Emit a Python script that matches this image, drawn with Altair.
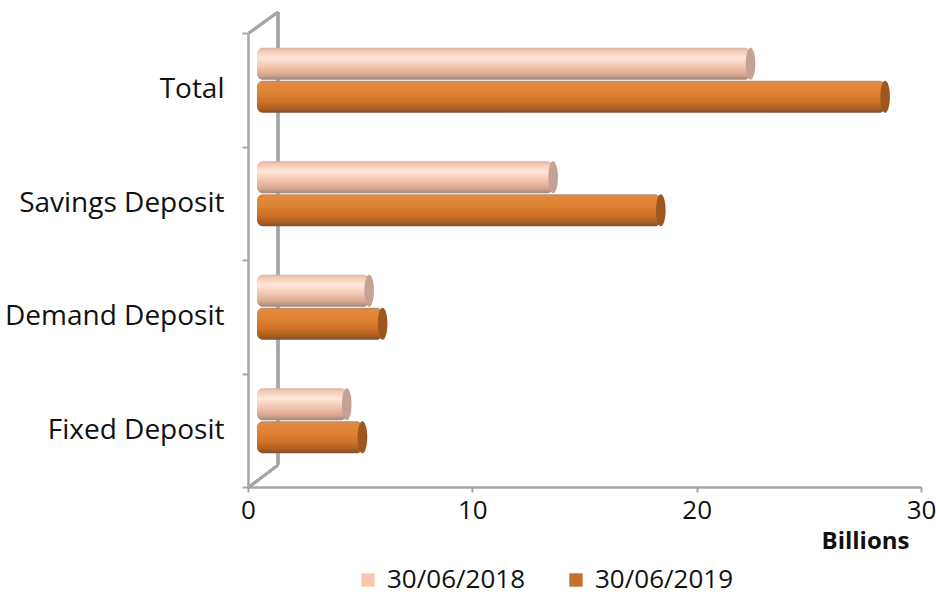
import altair as alt
import pandas as pd

categories = ["Total", "Savings Deposit", "Demand Deposit", "Fixed Deposit"]
series = ["30/06/2018", "30/06/2019"]
values_2018 = [22.0, 13.2, 5.0, 4.0]
values_2019 = [28.0, 18.0, 5.6, 4.7]
x_ticks = [0, 10, 20, 30]

rows = []
for c, a, b in zip(categories, values_2018, values_2019):
    rows.append({"category": c, "series": series[0], "value": a})
    rows.append({"category": c, "series": series[1], "value": b})
df = pd.DataFrame(rows)

FONT = "Open Sans"
GRAY = "#a6a6a6"
LIGHT = "#f8c8b2"
DARK = "#c3712f"

ellipse = "M0,-1 A0.3,1 0 1,1 0,1 A0.3,1 0 1,1 0,-1 Z"

x_enc = alt.X(
    "value:Q",
    scale=alt.Scale(domain=[0, 30], nice=False, zero=True),
    axis=alt.Axis(
        values=x_ticks, title="Billions", grid=False, labelFlush=False,
        domainColor=GRAY, domainWidth=2.5, tickColor=GRAY, tickWidth=2, tickSize=5,
        labelFont=FONT, labelFontSize=26, labelColor="#111111", labelPadding=5,
        titleFont=FONT, titleFontSize=24, titleFontWeight="bold", titleColor="#111111",
        titleX=617, titleY=54, titleAlign="center", titleBaseline="middle",
    ),
)
y_enc = alt.Y(
    "category:N",
    sort=categories,
    scale=alt.Scale(paddingInner=0, paddingOuter=0),
    axis=alt.Axis(
        title=None, grid=False, tickBand="extent", labelLimit=400,
        domainColor=GRAY, domainWidth=2.5, tickColor=GRAY, tickWidth=2, tickSize=6,
        labelFont=FONT, labelFontSize=28, labelColor="#111111", labelPadding=18,
    ),
)

base = alt.Chart(df)

# 3D back-wall decoration
frame_v = base.mark_rule(color=GRAY, strokeWidth=2.5).encode(
    x=alt.value(30), y=alt.value(-21), y2=alt.value(432))
frame_top = base.mark_rule(color=GRAY, strokeWidth=2.5).encode(
    x=alt.value(1), y=alt.value(0), x2=alt.value(30), y2=alt.value(-21))
frame_bot = base.mark_rule(color=GRAY, strokeWidth=2.5).encode(
    x=alt.value(1), y=alt.value(454), x2=alt.value(30), y2=alt.value(432))

legend_layer = base.mark_bar(opacity=0, height=1).encode(
    x=x_enc, y=y_enc,
    color=alt.Color(
        "series:N",
        scale=alt.Scale(domain=series, range=[LIGHT, DARK]),
        legend=alt.Legend(
            title=None, orient="none", direction="horizontal",
            legendX=107, legendY=534, symbolType="square", symbolSize=180,
            symbolOpacity=1, symbolStrokeWidth=0,
            labelFont=FONT, labelFontSize=26, labelColor="#111111",
            labelOffset=6, columnPadding=38,
        ),
    ),
)

grad_2018 = alt.Gradient(
    gradient="linear", x1=0, y1=0, x2=0, y2=1,
    stops=[
        alt.GradientStop(offset=0, color="#cdb6aa"),
        alt.GradientStop(offset=0.08, color="#f4c6ae"),
        alt.GradientStop(offset=0.32, color="#fde7da"),
        alt.GradientStop(offset=0.6, color="#f2c5ae"),
        alt.GradientStop(offset=0.85, color="#d6a690"),
        alt.GradientStop(offset=1, color="#9c877c"),
    ],
)
grad_2019 = alt.Gradient(
    gradient="linear", x1=0, y1=0, x2=0, y2=1,
    stops=[
        alt.GradientStop(offset=0, color="#b98c6c"),
        alt.GradientStop(offset=0.08, color="#e3893e"),
        alt.GradientStop(offset=0.35, color="#de8234"),
        alt.GradientStop(offset=0.65, color="#d07227"),
        alt.GradientStop(offset=0.88, color="#a95d20"),
        alt.GradientStop(offset=1, color="#7c5032"),
    ],
)

def bar_layer(name, grad, cap, yoff):
    data = base.transform_filter(alt.datum.series == name)
    body = data.mark_bar(
        height=32, color=grad, cornerRadius=6,
        xOffset=9, x2Offset=9, yOffset=yoff, y2Offset=yoff,
    ).encode(x=x_enc, x2=alt.datum(0), y=y_enc)
    end = data.mark_point(
        shape=ellipse, size=1024, filled=True, fill=cap, opacity=1,
        strokeWidth=0, xOffset=9, yOffset=yoff,
    ).encode(x=x_enc, y=y_enc)
    return body + end

b18 = bar_layer(series[0], grad_2018, "#c6a195", -26)
b19 = bar_layer(series[1], grad_2019, "#9e561e", 7)

chart = alt.layer(frame_v, frame_top, frame_bot, legend_layer, b18, b19).properties(
    width=673, height=454,
    autosize=alt.AutoSizeParams(type="none"),
    padding={"left": 248, "top": 33, "right": 15, "bottom": 109},
    background="white",
).configure_view(stroke=None)

chart.save("out.html", embed_options={"renderer": "svg", "actions": False})
